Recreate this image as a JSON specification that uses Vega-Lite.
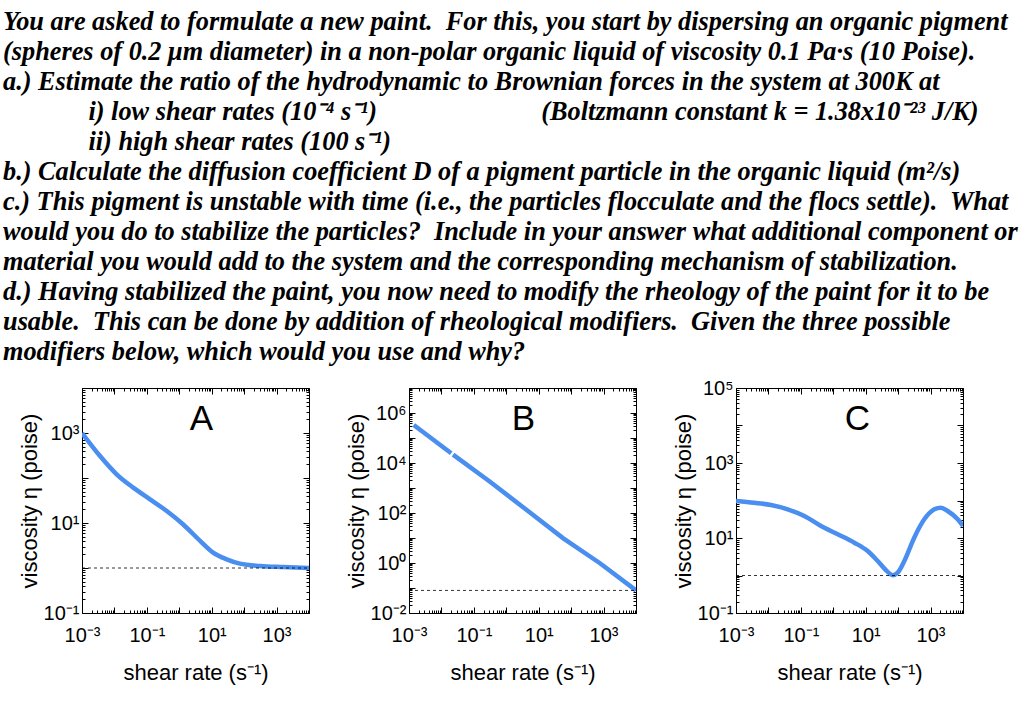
{
  "$schema": "https://vega.github.io/schema/vega-lite/v6.json",
  "background": "white",
  "padding": {"left": 3, "top": 9, "right": 5, "bottom": 5},
  "title": {
    "text": [
      "You are asked to formulate a new paint.\u00a0 For this, you start by dispersing an organic pigment",
      "(spheres of 0.2 \u03bcm diameter) in a non-polar organic liquid of viscosity 0.1 Pa\u00b7s (10 Poise).",
      "a.) Estimate the ratio of the hydrodynamic to Brownian forces in the system at 300K at",
      "\u200b\u00a0\u00a0\u00a0\u00a0\u00a0\u00a0\u00a0\u00a0\u00a0\u00a0\u00a0\u00a0\u00a0i) low shear rates (10\u207b\u2074 s\u207b\u00b9)\u00a0\u00a0\u00a0\u00a0\u00a0\u00a0\u00a0\u00a0\u00a0\u00a0\u00a0\u00a0\u00a0\u00a0\u00a0\u00a0\u00a0\u00a0\u00a0\u00a0\u00a0\u00a0\u00a0\u00a0\u00a0(Boltzmann constant k = 1.38x10\u207b\u00b2\u00b3 J/K)",
      "\u200b\u00a0\u00a0\u00a0\u00a0\u00a0\u00a0\u00a0\u00a0\u00a0\u00a0\u00a0\u00a0\u00a0ii) high shear rates (100 s\u207b\u00b9)",
      "b.) Calculate the diffusion coefficient D of a pigment particle in the organic liquid (m\u00b2/s)",
      "c.) This pigment is unstable with time (i.e., the particles flocculate and the flocs settle).\u00a0 What",
      "would you do to stabilize the particles?\u00a0 Include in your answer what additional component or",
      "material you would add to the system and the corresponding mechanism of stabilization.",
      "d.) Having stabilized the paint, you now need to modify the rheology of the paint for it to be",
      "usable.\u00a0 This can be done by addition of rheological modifiers.\u00a0 Given the three possible",
      "modifiers below, which would you use and why?"
    ],
    "anchor": "start",
    "frame": "group",
    "font": "Liberation Serif",
    "fontSize": 26.3,
    "fontStyle": "italic",
    "fontWeight": "bold",
    "lineHeight": 30,
    "offset": 12,
    "dx": -79,
    "color": "black"
  },
  "datasets": {
    "curveA": [
      {"rate": 0.001, "eta": 1000}, {"rate": 0.0036, "eta": 308}, {"rate": 0.0117, "eta": 121},
      {"rate": 0.038, "eta": 61}, {"rate": 0.125, "eta": 33.6}, {"rate": 0.41, "eta": 18.5},
      {"rate": 1.3, "eta": 9.4}, {"rate": 4.4, "eta": 4.0}, {"rate": 11, "eta": 2.2},
      {"rate": 29, "eta": 1.56}, {"rate": 74, "eta": 1.25}, {"rate": 309, "eta": 1.11},
      {"rate": 1600, "eta": 1.05}, {"rate": 10000, "eta": 1.0}
    ],
    "baseA": [{"rate": 0.001, "eta": 1}, {"rate": 10000, "eta": 1}],
    "curveB": [
      {"seg": 1, "rate": 0.0014, "eta": 331000}, {"seg": 1, "rate": 0.02, "eta": 24400},
      {"seg": 2, "rate": 0.0228, "eta": 21500}, {"seg": 2, "rate": 0.315, "eta": 1780},
      {"seg": 2, "rate": 4.26, "eta": 132}, {"seg": 2, "rate": 57.3, "eta": 9.7},
      {"seg": 2, "rate": 776, "eta": 0.98}, {"seg": 2, "rate": 10000, "eta": 0.08}
    ],
    "baseB": [{"rate": 0.001, "eta": 0.08}, {"rate": 10000, "eta": 0.08}],
    "curveC": [
      {"rate": 0.001, "eta": 97}, {"rate": 0.00366, "eta": 87}, {"rate": 0.012, "eta": 76},
      {"rate": 0.0393, "eta": 58}, {"rate": 0.128, "eta": 38.6}, {"rate": 0.418, "eta": 20.9},
      {"rate": 1.37, "eta": 12.6}, {"rate": 4.45, "eta": 7.5}, {"rate": 11.5, "eta": 4.5},
      {"rate": 23.4, "eta": 2.44}, {"rate": 42.2, "eta": 1.38}, {"rate": 67.8, "eta": 1.02},
      {"rate": 96.8, "eta": 1.19}, {"rate": 155, "eta": 2.44}, {"rate": 313, "eta": 10.2},
      {"rate": 640, "eta": 31.5}, {"rate": 1303, "eta": 58}, {"rate": 2090, "eta": 64.5},
      {"rate": 3370, "eta": 52.5}, {"rate": 6860, "eta": 31.5}, {"rate": 10000, "eta": 20.9}
    ],
    "baseC": [{"rate": 0.001, "eta": 1}, {"rate": 10000, "eta": 1}]
  },
  "hconcat": [
    {
      "width": 227, "height": 225,
      "title": {"text": "A", "font": "Liberation Sans", "fontSize": 35, "fontWeight": "normal", "color": "black", "anchor": "middle", "offset": -59, "dx": 6},
      "layer": [
        {
          "data": {"name": "curveA"},
          "mark": {"type": "line", "color": "#4a8ef0", "strokeWidth": 4.5, "interpolate": "monotone", "clip": true},
          "encoding": {
            "x": {"field": "rate", "type": "quantitative", "scale": {"type": "log", "domain": [0.001, 10000]},
              "axis": {"orient": "bottom", "title": "shear rate (s\u207b\u00b9)", "titlePadding": 14, "labelPadding": 18,
                "values": [0.001,0.002,0.003,0.004,0.005,0.006,0.007,0.008,0.009,0.01,0.02,0.03,0.04,0.05,0.06,0.07,0.08,0.09,0.1,0.2,0.3,0.4,0.5,0.6,0.7,0.8,0.9,1,2,3,4,5,6,7,8,9,10,20,30,40,50,60,70,80,90,100,200,300,400,500,600,700,800,900,1000,2000,3000,4000,5000,6000,7000,8000,9000,10000],
                "tickSize": {"condition": {"test": "abs(log(datum.value)/LN10 - round(log(datum.value)/LN10)) < 0.001", "value": -6}, "value": -3},
                "labelExpr": "(abs(log(datum.value)/LN10 - round(log(datum.value)/LN10)) < 0.001 && abs(round(log(datum.value)/LN10)) % 2 == 1) ? '10' + (datum.value < 1 ? '\u207b' : '') + substring('\u2070\u00b9\u00b2\u00b3\u2074\u2075\u2076\u2077\u2078\u2079', abs(round(log(datum.value)/LN10)), abs(round(log(datum.value)/LN10)) + 1) : ''"}},
            "y": {"field": "eta", "type": "quantitative", "scale": {"type": "log", "domain": [0.1, 10000]},
              "axis": {"orient": "left", "title": "viscosity \u03b7 (poise)", "titlePadding": 2, "labelPadding": 9,
                "values": [0.1,0.2,0.3,0.4,0.5,0.6,0.7,0.8,0.9,1,2,3,4,5,6,7,8,9,10,20,30,40,50,60,70,80,90,100,200,300,400,500,600,700,800,900,1000,2000,3000,4000,5000,6000,7000,8000,9000,10000],
                "tickSize": {"condition": {"test": "abs(log(datum.value)/LN10 - round(log(datum.value)/LN10)) < 0.001", "value": -6}, "value": -3},
                "labelExpr": "(abs(log(datum.value)/LN10 - round(log(datum.value)/LN10)) < 0.001 && abs(round(log(datum.value)/LN10)) % 2 == 1) ? '10' + (datum.value < 1 ? '\u207b' : '') + substring('\u2070\u00b9\u00b2\u00b3\u2074\u2075\u2076\u2077\u2078\u2079', abs(round(log(datum.value)/LN10)), abs(round(log(datum.value)/LN10)) + 1) : ''"}}
          }
        },
        {
          "data": {"name": "baseA"},
          "mark": {"type": "line", "color": "black", "strokeWidth": 0.8, "strokeDash": [3, 3], "clip": true},
          "encoding": {
            "x": {"field": "rate", "type": "quantitative", "scale": {"type": "log", "domain": [0.001, 10000]},
              "axis": {"orient": "top", "title": null, "labels": false, "domain": false,
                "values": [0.001,0.002,0.003,0.004,0.005,0.006,0.007,0.008,0.009,0.01,0.02,0.03,0.04,0.05,0.06,0.07,0.08,0.09,0.1,0.2,0.3,0.4,0.5,0.6,0.7,0.8,0.9,1,2,3,4,5,6,7,8,9,10,20,30,40,50,60,70,80,90,100,200,300,400,500,600,700,800,900,1000,2000,3000,4000,5000,6000,7000,8000,9000,10000],
                "tickSize": {"condition": {"test": "abs(log(datum.value)/LN10 - round(log(datum.value)/LN10)) < 0.001", "value": -6}, "value": -3}}},
            "y": {"field": "eta", "type": "quantitative", "scale": {"type": "log", "domain": [0.1, 10000]},
              "axis": {"orient": "right", "title": null, "labels": false, "domain": false,
                "values": [0.1,0.2,0.3,0.4,0.5,0.6,0.7,0.8,0.9,1,2,3,4,5,6,7,8,9,10,20,30,40,50,60,70,80,90,100,200,300,400,500,600,700,800,900,1000,2000,3000,4000,5000,6000,7000,8000,9000,10000],
                "tickSize": {"condition": {"test": "abs(log(datum.value)/LN10 - round(log(datum.value)/LN10)) < 0.001", "value": -6}, "value": -3}}}
          }
        }
      ],
      "resolve": {"axis": {"x": "independent", "y": "independent"}}
    },
    {
      "width": 227, "height": 225,
      "title": {"text": "B", "font": "Liberation Sans", "fontSize": 35, "fontWeight": "normal", "color": "black", "anchor": "middle", "offset": -59, "dx": 1},
      "layer": [
        {
          "data": {"name": "curveB"},
          "mark": {"type": "line", "color": "#4a8ef0", "strokeWidth": 4.5, "clip": true},
          "encoding": {
            "detail": {"field": "seg"},
            "x": {"field": "rate", "type": "quantitative", "scale": {"type": "log", "domain": [0.001, 10000]},
              "axis": {"orient": "bottom", "title": "shear rate (s\u207b\u00b9)", "titlePadding": 14, "labelPadding": 18,
                "values": [0.001,0.002,0.003,0.004,0.005,0.006,0.007,0.008,0.009,0.01,0.02,0.03,0.04,0.05,0.06,0.07,0.08,0.09,0.1,0.2,0.3,0.4,0.5,0.6,0.7,0.8,0.9,1,2,3,4,5,6,7,8,9,10,20,30,40,50,60,70,80,90,100,200,300,400,500,600,700,800,900,1000,2000,3000,4000,5000,6000,7000,8000,9000,10000],
                "tickSize": {"condition": {"test": "abs(log(datum.value)/LN10 - round(log(datum.value)/LN10)) < 0.001", "value": -6}, "value": -3},
                "labelExpr": "(abs(log(datum.value)/LN10 - round(log(datum.value)/LN10)) < 0.001 && abs(round(log(datum.value)/LN10)) % 2 == 1) ? '10' + (datum.value < 1 ? '\u207b' : '') + substring('\u2070\u00b9\u00b2\u00b3\u2074\u2075\u2076\u2077\u2078\u2079', abs(round(log(datum.value)/LN10)), abs(round(log(datum.value)/LN10)) + 1) : ''"}},
            "y": {"field": "eta", "type": "quantitative", "scale": {"type": "log", "domain": [0.01, 10000000]},
              "axis": {"orient": "left", "title": "viscosity \u03b7 (poise)", "titlePadding": 2, "labelPadding": 9,
                "values": [0.01,0.02,0.03,0.04,0.05,0.06,0.07,0.08,0.09,0.1,0.2,0.3,0.4,0.5,0.6,0.7,0.8,0.9,1,2,3,4,5,6,7,8,9,10,20,30,40,50,60,70,80,90,100,200,300,400,500,600,700,800,900,1000,2000,3000,4000,5000,6000,7000,8000,9000,10000,20000,30000,40000,50000,60000,70000,80000,90000,100000,200000,300000,400000,500000,600000,700000,800000,900000,1000000,2000000,3000000,4000000,5000000,6000000,7000000,8000000,9000000,10000000],
                "tickSize": {"condition": {"test": "abs(log(datum.value)/LN10 - round(log(datum.value)/LN10)) < 0.001", "value": -6}, "value": -3},
                "labelExpr": "(abs(log(datum.value)/LN10 - round(log(datum.value)/LN10)) < 0.001 && abs(round(log(datum.value)/LN10)) % 2 == 0) ? '10' + (datum.value < 1 ? '\u207b' : '') + substring('\u2070\u00b9\u00b2\u00b3\u2074\u2075\u2076\u2077\u2078\u2079', abs(round(log(datum.value)/LN10)), abs(round(log(datum.value)/LN10)) + 1) : ''"}}
          }
        },
        {
          "data": {"name": "baseB"},
          "mark": {"type": "line", "color": "black", "strokeWidth": 0.8, "strokeDash": [3, 3], "clip": true},
          "encoding": {
            "x": {"field": "rate", "type": "quantitative", "scale": {"type": "log", "domain": [0.001, 10000]},
              "axis": {"orient": "top", "title": null, "labels": false, "domain": false,
                "values": [0.001,0.002,0.003,0.004,0.005,0.006,0.007,0.008,0.009,0.01,0.02,0.03,0.04,0.05,0.06,0.07,0.08,0.09,0.1,0.2,0.3,0.4,0.5,0.6,0.7,0.8,0.9,1,2,3,4,5,6,7,8,9,10,20,30,40,50,60,70,80,90,100,200,300,400,500,600,700,800,900,1000,2000,3000,4000,5000,6000,7000,8000,9000,10000],
                "tickSize": {"condition": {"test": "abs(log(datum.value)/LN10 - round(log(datum.value)/LN10)) < 0.001", "value": -6}, "value": -3}}},
            "y": {"field": "eta", "type": "quantitative", "scale": {"type": "log", "domain": [0.01, 10000000]},
              "axis": {"orient": "right", "title": null, "labels": false, "domain": false,
                "values": [0.01,0.02,0.03,0.04,0.05,0.06,0.07,0.08,0.09,0.1,0.2,0.3,0.4,0.5,0.6,0.7,0.8,0.9,1,2,3,4,5,6,7,8,9,10,20,30,40,50,60,70,80,90,100,200,300,400,500,600,700,800,900,1000,2000,3000,4000,5000,6000,7000,8000,9000,10000,20000,30000,40000,50000,60000,70000,80000,90000,100000,200000,300000,400000,500000,600000,700000,800000,900000,1000000,2000000,3000000,4000000,5000000,6000000,7000000,8000000,9000000,10000000],
                "tickSize": {"condition": {"test": "abs(log(datum.value)/LN10 - round(log(datum.value)/LN10)) < 0.001", "value": -6}, "value": -3}}}
          }
        }
      ],
      "resolve": {"axis": {"x": "independent", "y": "independent"}}
    },
    {
      "width": 227, "height": 225,
      "title": {"text": "C", "font": "Liberation Sans", "fontSize": 35, "fontWeight": "normal", "color": "black", "anchor": "middle", "offset": -59, "dx": 8},
      "layer": [
        {
          "data": {"name": "curveC"},
          "mark": {"type": "line", "color": "#4a8ef0", "strokeWidth": 4.5, "interpolate": "monotone", "clip": true},
          "encoding": {
            "x": {"field": "rate", "type": "quantitative", "scale": {"type": "log", "domain": [0.001, 10000]},
              "axis": {"orient": "bottom", "title": "shear rate (s\u207b\u00b9)", "titlePadding": 14, "labelPadding": 18,
                "values": [0.001,0.002,0.003,0.004,0.005,0.006,0.007,0.008,0.009,0.01,0.02,0.03,0.04,0.05,0.06,0.07,0.08,0.09,0.1,0.2,0.3,0.4,0.5,0.6,0.7,0.8,0.9,1,2,3,4,5,6,7,8,9,10,20,30,40,50,60,70,80,90,100,200,300,400,500,600,700,800,900,1000,2000,3000,4000,5000,6000,7000,8000,9000,10000],
                "tickSize": {"condition": {"test": "abs(log(datum.value)/LN10 - round(log(datum.value)/LN10)) < 0.001", "value": -6}, "value": -3},
                "labelExpr": "(abs(log(datum.value)/LN10 - round(log(datum.value)/LN10)) < 0.001 && abs(round(log(datum.value)/LN10)) % 2 == 1) ? '10' + (datum.value < 1 ? '\u207b' : '') + substring('\u2070\u00b9\u00b2\u00b3\u2074\u2075\u2076\u2077\u2078\u2079', abs(round(log(datum.value)/LN10)), abs(round(log(datum.value)/LN10)) + 1) : ''"}},
            "y": {"field": "eta", "type": "quantitative", "scale": {"type": "log", "domain": [0.1, 100000]},
              "axis": {"orient": "left", "title": "viscosity \u03b7 (poise)", "titlePadding": 2, "labelPadding": 9,
                "values": [0.1,0.2,0.3,0.4,0.5,0.6,0.7,0.8,0.9,1,2,3,4,5,6,7,8,9,10,20,30,40,50,60,70,80,90,100,200,300,400,500,600,700,800,900,1000,2000,3000,4000,5000,6000,7000,8000,9000,10000,20000,30000,40000,50000,60000,70000,80000,90000,100000],
                "tickSize": {"condition": {"test": "abs(log(datum.value)/LN10 - round(log(datum.value)/LN10)) < 0.001", "value": -6}, "value": -3},
                "labelExpr": "(abs(log(datum.value)/LN10 - round(log(datum.value)/LN10)) < 0.001 && abs(round(log(datum.value)/LN10)) % 2 == 1) ? '10' + (datum.value < 1 ? '\u207b' : '') + substring('\u2070\u00b9\u00b2\u00b3\u2074\u2075\u2076\u2077\u2078\u2079', abs(round(log(datum.value)/LN10)), abs(round(log(datum.value)/LN10)) + 1) : ''"}}
          }
        },
        {
          "data": {"name": "baseC"},
          "mark": {"type": "line", "color": "black", "strokeWidth": 0.8, "strokeDash": [3, 3], "clip": true},
          "encoding": {
            "x": {"field": "rate", "type": "quantitative", "scale": {"type": "log", "domain": [0.001, 10000]},
              "axis": {"orient": "top", "title": null, "labels": false, "domain": false,
                "values": [0.001,0.002,0.003,0.004,0.005,0.006,0.007,0.008,0.009,0.01,0.02,0.03,0.04,0.05,0.06,0.07,0.08,0.09,0.1,0.2,0.3,0.4,0.5,0.6,0.7,0.8,0.9,1,2,3,4,5,6,7,8,9,10,20,30,40,50,60,70,80,90,100,200,300,400,500,600,700,800,900,1000,2000,3000,4000,5000,6000,7000,8000,9000,10000],
                "tickSize": {"condition": {"test": "abs(log(datum.value)/LN10 - round(log(datum.value)/LN10)) < 0.001", "value": -6}, "value": -3}}},
            "y": {"field": "eta", "type": "quantitative", "scale": {"type": "log", "domain": [0.1, 100000]},
              "axis": {"orient": "right", "title": null, "labels": false, "domain": false,
                "values": [0.1,0.2,0.3,0.4,0.5,0.6,0.7,0.8,0.9,1,2,3,4,5,6,7,8,9,10,20,30,40,50,60,70,80,90,100,200,300,400,500,600,700,800,900,1000,2000,3000,4000,5000,6000,7000,8000,9000,10000,20000,30000,40000,50000,60000,70000,80000,90000,100000],
                "tickSize": {"condition": {"test": "abs(log(datum.value)/LN10 - round(log(datum.value)/LN10)) < 0.001", "value": -6}, "value": -3}}}
          }
        }
      ],
      "resolve": {"axis": {"x": "independent", "y": "independent"}}
    }
  ],
  "spacing": 100,
  "bounds": "flush",
  "config": {
    "view": {"stroke": "black", "strokeWidth": 1},
    "axis": {
      "grid": false, "domainColor": "black", "tickColor": "black", "tickWidth": 1,
      "labelColor": "black", "titleColor": "black",
      "labelFont": "Liberation Sans", "titleFont": "Liberation Sans",
      "labelFontSize": 20, "titleFontSize": 22, "titleFontWeight": "normal",
      "labelFlush": false, "labelOverlap": false
    }
  }
}
